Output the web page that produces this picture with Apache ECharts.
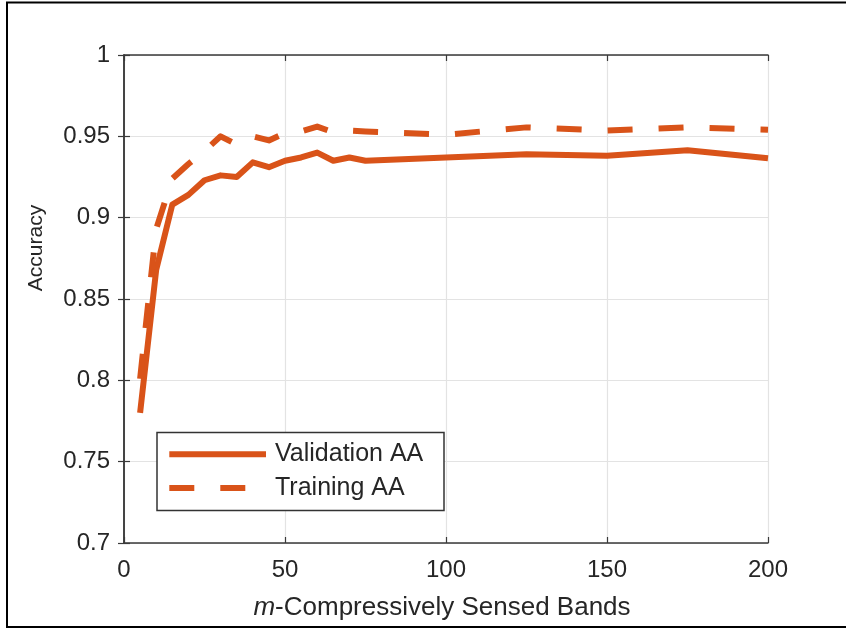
<!DOCTYPE html>
<html>
<head>
<meta charset="utf-8">
<script src="https://cdn.jsdelivr.net/npm/echarts@6/dist/echarts.min.js"></script>
<style>
  html, body { margin: 0; padding: 0; background: #fff; }
  #chart { width: 846px; height: 629px; }
</style>
</head>
<body>
<div id="chart"></div>
<script>
// Number of compressively sensed bands (m)
const bands = [5, 10, 15, 20, 25, 30, 35, 40, 45, 50, 55, 60, 65, 70, 75, 100, 125, 150, 175, 200];
// Average accuracy on the validation set
const validationAA = [0.780, 0.868, 0.908, 0.914, 0.923, 0.926, 0.925, 0.934, 0.931, 0.935,
                      0.937, 0.940, 0.935, 0.937, 0.935, 0.937, 0.939, 0.938, 0.9415, 0.9365];
// Average accuracy on the training set
const trainingAA = [0.801, 0.893, 0.924, 0.933, 0.941, 0.950, 0.945, 0.950, 0.9475, 0.952,
                    0.953, 0.956, 0.9525, 0.9535, 0.953, 0.951, 0.9555, 0.9535, 0.9555, 0.954];
const seriesNames = ['Validation AA', 'Training AA'];
const xTicks = [0, 50, 100, 150, 200];
const yTicks = [0.7, 0.75, 0.8, 0.85, 0.9, 0.95, 1];

const FONT = '"Liberation Sans", Arial, Helvetica, sans-serif';
const INK = '#262626';
const ORANGE = '#D95319';
const DASH = [25, 26];

const pairs = (xs, ys) => xs.map((x, i) => [x, ys[i]]);

const axisLineStyle = { show: true, lineStyle: { color: '#3a3a3a', width: 1.5 } };
const tickStyle = { show: true, inside: true, length: 6, lineStyle: { color: '#3a3a3a', width: 1.2 } };

const xRange = { min: xTicks[0], max: xTicks[xTicks.length - 1], interval: xTicks[1] - xTicks[0] };
const yRange = { min: yTicks[0], max: yTicks[yTicks.length - 1], interval: 0.05 };

// Legend box drawn as graphics: frame, line samples and labels
const legendBox = { x: 157, y: 432.5, w: 287, h: 78 };
const legendRows = [
  { name: seriesNames[0], y: 454.3, dash: null },
  { name: seriesNames[1], y: 488, dash: DASH }
];
const legendGraphics = [
  {
    type: 'rect', z: 50, silent: true,
    shape: { x: legendBox.x, y: legendBox.y, width: legendBox.w, height: legendBox.h },
    style: { fill: '#fff', stroke: '#333', lineWidth: 1.5 }
  }
];
legendRows.forEach(row => {
  legendGraphics.push({
    type: 'line', z: 51, silent: true,
    shape: { x1: 169.3, y1: row.y, x2: 266, y2: row.y },
    style: { stroke: ORANGE, lineWidth: 6, lineDash: row.dash, lineCap: 'butt' }
  });
  legendGraphics.push({
    type: 'text', z: 51, silent: true, x: 275, y: row.y,
    style: {
      text: row.name, fill: INK, font: '25px ' + FONT,
      textAlign: 'left', textVerticalAlign: 'middle'
    }
  });
});

const chart = echarts.init(document.getElementById('chart'), null, { renderer: 'canvas' });

chart.setOption({
  backgroundColor: '#fff',
  animation: false,
  grid: { left: 124, right: 78, top: 55, bottom: 86, containLabel: false, outerBoundsMode: 'none' },
  xAxis: [
    {
      type: 'value', position: 'bottom', ...xRange,
      axisLine: axisLineStyle, axisTick: tickStyle,
      axisLabel: { color: INK, fontSize: 24, fontFamily: FONT, margin: 15 },
      splitLine: { show: true, lineStyle: { color: '#e3e3e3', width: 1.2 } }
    },
    {
      type: 'value', position: 'top', ...xRange,
      axisLine: axisLineStyle, axisTick: tickStyle,
      axisLabel: { show: false }, splitLine: { show: false }
    }
  ],
  yAxis: [
    {
      type: 'value', position: 'left', ...yRange,
      axisLine: axisLineStyle, axisTick: tickStyle,
      axisLabel: {
        color: INK, fontSize: 24, fontFamily: FONT, margin: 14,
        formatter: v => String(+v.toFixed(2))
      },
      splitLine: { show: true, lineStyle: { color: '#e3e3e3', width: 1.2 } }
    },
    {
      type: 'value', position: 'right', ...yRange,
      axisLine: axisLineStyle, axisTick: tickStyle,
      axisLabel: { show: false }, splitLine: { show: false }
    }
  ],
  series: [
    {
      name: seriesNames[0], type: 'line',
      data: pairs(bands, validationAA),
      symbol: 'none', showSymbol: false,
      lineStyle: { color: ORANGE, width: 6, type: 'solid', join: 'round' },
      itemStyle: { color: ORANGE },
      z: 3
    },
    {
      name: seriesNames[1], type: 'line',
      data: pairs(bands, trainingAA),
      symbol: 'none', showSymbol: false,
      lineStyle: { color: ORANGE, width: 6, type: DASH, cap: 'butt', join: 'round' },
      itemStyle: { color: ORANGE },
      z: 3
    }
  ],
  graphic: [
    {
      type: 'rect', silent: true, z: 100,
      shape: { x: 7, y: 2.5, width: 900, height: 624.5 },
      style: { fill: 'none', stroke: '#000', lineWidth: 2 }
    },
    {
      type: 'text', x: 36, y: 248, rotation: Math.PI / 2,
      style: {
        text: 'Accuracy', fill: INK, font: '21px ' + FONT,
        textAlign: 'center', textVerticalAlign: 'middle'
      }
    },
    {
      type: 'text', x: 442, y: 608,
      style: {
        text: '{i|m}-Compressively Sensed Bands',
        fill: INK, fontSize: 26, fontFamily: FONT,
        align: 'center', verticalAlign: 'middle',
        rich: { i: { fontStyle: 'italic', fontSize: 26, fontFamily: FONT, fill: INK } }
      }
    },
    ...legendGraphics
  ]
});
</script>
</body>
</html>
